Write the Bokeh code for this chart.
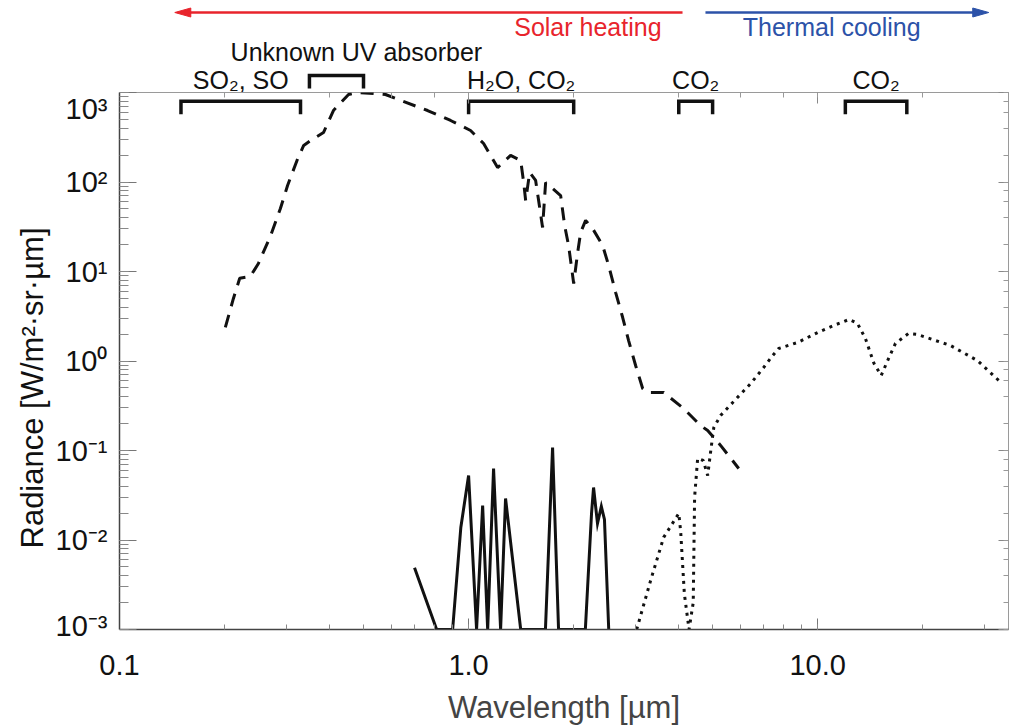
import math

from bokeh.core.properties import value
from bokeh.embed import file_html
from bokeh.layouts import column
from bokeh.models import CustomJSTickFormatter, FixedTicker, LogAxis, Range1d, Title
from bokeh.plotting import figure
from bokeh.resources import INLINE

FONT = "Liberation Sans"
RED = "#e8242c"
BLUE = "#2c52a8"
INK = "#111111"

# Solar (reflected sunlight) radiance, dashed
solar_wl = [0.201, 0.212, 0.221, 0.237, 0.250, 0.271, 0.289, 0.303, 0.324, 0.337,
            0.353, 0.384, 0.410, 0.453, 0.481, 0.534, 0.578, 0.639, 0.763, 0.888,
            1.013, 1.104, 1.211, 1.319, 1.410, 1.438, 1.457, 1.496, 1.556, 1.587,
            1.629, 1.662, 1.835, 1.884, 1.934, 2.000, 2.053, 2.094, 2.164, 2.266,
            2.421, 2.518, 2.638, 2.763, 2.873, 3.009, 3.152, 3.258, 3.620, 4.130,
            4.620, 4.840, 5.270, 5.940]
solar_rad = [2.37, 5.0, 8.4, 8.8, 12.3, 25.2, 50.6, 91.4, 183.0, 256.0,
             291.0, 357.0, 629.0, 950.0, 1000.0, 975.0, 950.0, 815.0, 629.0, 487.0,
             376.0, 269.0, 145.0, 198.0, 174.0, 98.6, 62.0, 128.0, 104.0, 62.0,
             31.0, 98.6, 70.6, 32.7, 19.5, 7.35, 16.3, 27.3, 37.2, 30.2,
             19.5, 11.7, 5.82, 3.06, 1.69, 0.891, 0.493, 0.445, 0.445, 0.294,
             0.190, 0.167, 0.114, 0.063]

# Near-infrared window emission, solid
window_wl = [0.70, 0.81, 0.90, 0.95, 1.00, 1.054, 1.097, 1.134, 1.179, 1.235,
             1.276, 1.41, 1.66, 1.74, 1.81, 2.16, 2.25, 2.28, 2.34, 2.40, 2.45, 2.52]
window_rad = [0.0049, 0.001, 0.001, 0.0138, 0.0526, 0.001, 0.0243, 0.001, 0.063, 0.001,
              0.0291, 0.001, 0.001, 0.108, 0.001, 0.001, 0.020, 0.0386, 0.0153, 0.0237,
              0.017, 0.001]

# Thermal emission, dotted
thermal_wl = [3.03, 3.32, 3.62, 4.00, 4.05, 4.15, 4.28, 4.40, 4.44, 4.53,
              4.70, 4.84, 4.94, 5.04, 5.27, 5.71, 6.43, 7.00, 7.43, 7.73,
              8.76, 10.0, 11.1, 12.3, 13.0, 13.7, 14.5, 15.2, 16.0, 16.7,
              18.2, 19.3, 24.0, 28.7, 33.5]
thermal_rad = [0.001, 0.0035, 0.0107, 0.0198, 0.0125, 0.0025, 0.001, 0.002, 0.030, 0.0815,
               0.0773, 0.0526, 0.100, 0.181, 0.246, 0.344, 0.561, 0.846, 1.15, 1.38,
               1.61, 2.08, 2.49, 2.91, 2.63, 1.78, 0.937, 0.689, 1.09, 1.57,
               2.03, 1.98, 1.49, 1.01, 0.575]

# Absorber bands
band_labels = ["SO\u2082, SO", "Unknown UV absorber", "H\u2082O, CO\u2082", "CO\u2082", "CO\u2082"]
band_start = [0.15, 0.35, 1.0, 4.0, 12.0]
band_end = [0.33, 0.50, 2.0, 5.0, 18.0]

# Tick labels
x_tick_labels = ["0.1", "1.0", "10.0"]
y_tick_labels = ["10\u207b\u00b3", "10\u207b\u00b2", "10\u207b\u00b9", "10\u2070",
                 "10\u00b9", "10\u00b2", "10\u00b3"]

X_MIN, X_MAX = 0.1, 35.2
Y_MIN, Y_MAX = 1e-3, 1e3
FRAME_W, FRAME_H = 889, 537
PX_PER_DECADE = FRAME_W / math.log10(X_MAX / X_MIN)
PY_PER_DECADE = FRAME_H / math.log10(Y_MAX / Y_MIN)


def shift(wl, dpx):
    """Move a wavelength by dpx screen pixels along the log axis."""
    return wl * 10 ** (dpx / PX_PER_DECADE)


x_range = Range1d(X_MIN, X_MAX)

# ---------------- header strip: heating / cooling arrows and band names
top = figure(width=1019, height=92, x_axis_type="log", x_range=x_range,
             y_range=Range1d(92, 0), x_axis_location=None, y_axis_location=None,
             toolbar_location=None, output_backend="svg",
             min_border_left=119, min_border_right=11, min_border_top=0, min_border_bottom=0)
top.outline_line_color = None
top.grid.visible = False
top.background_fill_color = None
top.border_fill_color = "white"

ARROW_Y = 12
HEAD_L, HEAD_W = 16, 4.5
# solar heating arrow (pointing to short wavelengths)
red_tip, red_tail = 0.144, 4.10
top.line([shift(red_tip, HEAD_L - 2), red_tail], [ARROW_Y, ARROW_Y], line_color=RED, line_width=2.5)
top.patch([red_tip, shift(red_tip, HEAD_L), shift(red_tip, HEAD_L)],
          [ARROW_Y, ARROW_Y - HEAD_W, ARROW_Y + HEAD_W], color=RED)
# thermal cooling arrow (pointing to long wavelengths)
blue_tail, blue_tip = 4.77, 30.9
top.line([blue_tail, shift(blue_tip, -(HEAD_L - 2))], [ARROW_Y, ARROW_Y], line_color=BLUE, line_width=2.5)
top.patch([blue_tip, shift(blue_tip, -HEAD_L), shift(blue_tip, -HEAD_L)],
          [ARROW_Y, ARROW_Y - HEAD_W, ARROW_Y + HEAD_W], color=BLUE)

top.text(x=[3.57], y=[26], text=["Solar heating"], text_color=RED, text_align="right",
         text_baseline="alphabetic", text_font=value(FONT), text_font_size="25px")
top.text(x=[6.10], y=[26], text=["Thermal cooling"], text_color=BLUE, text_align="left",
         text_baseline="alphabetic", text_font=value(FONT), text_font_size="25px")

# UV absorber bracket sits above the frame
uv = 1
top.multi_line(xs=[[band_start[uv], band_start[uv], band_end[uv], band_end[uv]]],
               ys=[[88, 75, 75, 88]], line_color=INK, line_width=3.5, line_join="miter")
top.text(x=[0.477], y=[51], text=[band_labels[uv]], text_align="center",
         text_baseline="alphabetic", text_font=value(FONT), text_font_size="25px", text_color=INK)

others = [i for i in range(len(band_labels)) if i != uv]
centers = [math.sqrt(band_start[i] * band_end[i]) for i in others]
top.text(x=centers, y=[79] * len(others), text=[band_labels[i] for i in others],
         text_align="center", text_baseline="alphabetic", text_font=value(FONT),
         text_font_size="25px", text_color=INK)

# ---------------- main panel
p = figure(width=1019, height=636, x_axis_type="log", y_axis_type="log",
           x_range=x_range, y_range=Range1d(Y_MIN, Y_MAX),
           toolbar_location=None, output_backend="svg",
           min_border_left=119, min_border_right=11, min_border_top=0, min_border_bottom=99)
p.grid.visible = False
p.outline_line_color = "#9a9a9a"
p.outline_line_width = 1
p.background_fill_color = None

# brackets for the bands inside the frame
BR_TOP, BR_LEG = 800, 570
p.multi_line(xs=[[band_start[i], band_start[i], band_end[i], band_end[i]] for i in others],
             ys=[[BR_LEG, BR_TOP, BR_TOP, BR_LEG] for _ in others],
             line_color=INK, line_width=3.5, line_join="miter")

p.line(solar_wl, solar_rad, line_color=INK, line_width=3, line_dash="13 9")
p.line(window_wl, window_rad, line_color=INK, line_width=3, line_join="miter")
p.line(thermal_wl, thermal_rad, line_color=INK, line_width=3, line_dash="3 5")

xax = p.below[0]
xax.formatter = CustomJSTickFormatter(args=dict(labels=x_tick_labels),
                                      code="return labels[Math.round(Math.log10(tick)) + 1]")
xax.axis_label = "Wavelength [\u00b5m]"
xax.axis_label_text_font = FONT
xax.axis_label_text_font_size = "31px"
xax.axis_label_text_font_style = "normal"
xax.axis_label_standoff = 12
xax.major_label_text_font = FONT
xax.major_label_text_font_size = "29px"
xax.major_label_standoff = 25

# left axis: tick marks only, labels come from a second, tick-less axis
yax = p.left[0]
yax.formatter = CustomJSTickFormatter(code="return ''")
yax.major_label_text_font_size = "0px"
yax.major_label_standoff = 0

for ax, (maj, mnr) in ((xax, (11, 5)), (yax, (17, 9))):
    ax.axis_line_color = "#444444"
    ax.axis_line_width = 1.5
    ax.major_tick_out = 0
    ax.minor_tick_out = 0
    ax.major_tick_in = maj
    ax.minor_tick_in = mnr
    ax.major_tick_line_color = "#777777"
    ax.minor_tick_line_color = "#888888"
    ax.major_label_text_color = INK

# label positions: decades, with the two end labels nudged inside the frame
decades = [10.0 ** e for e in range(-3, 4)]
label_pos = list(decades)
label_pos[-1] = Y_MAX * 10 ** (-11 / PY_PER_DECADE)
label_pos[0] = Y_MIN * 10 ** (4 / PY_PER_DECADE)
ylab = LogAxis(ticker=FixedTicker(ticks=label_pos, minor_ticks=[]),
               formatter=CustomJSTickFormatter(args=dict(labels=y_tick_labels),
                                               code="return labels[Math.round(Math.log10(tick)) + 3]"),
               major_tick_in=0, major_tick_out=0, minor_tick_in=0, minor_tick_out=0,
               axis_line_color=None, major_label_standoff=12,
               major_label_text_font=FONT, major_label_text_font_size="29px",
               major_label_text_color=INK)
p.add_layout(ylab, "left")

# mirrored tick marks on the top and right edges
for loc, (maj, mnr) in (("above", (11, 5)), ("right", (10, 5))):
    ax = LogAxis(formatter=CustomJSTickFormatter(code="return ''"),
                 major_label_text_font_size="0px", major_label_standoff=0,
                 major_tick_out=0, minor_tick_out=0, major_tick_in=maj, minor_tick_in=mnr,
                 major_tick_line_color="#888888", minor_tick_line_color="#999999",
                 axis_line_color=None)
    p.add_layout(ax, loc)

# y-axis title, starting 81 px above the bottom of the frame
p.add_layout(Title(text="Radiance [W/m\u00b2\u00b7sr\u00b7\u00b5m]", align="left", offset=81,
                   text_font=FONT, text_font_size="31px", text_font_style="normal",
                   text_color=INK, standoff=6), "left")

layout = column(top, p, spacing=0)
open("out.html", "w").write(file_html(layout, INLINE))
